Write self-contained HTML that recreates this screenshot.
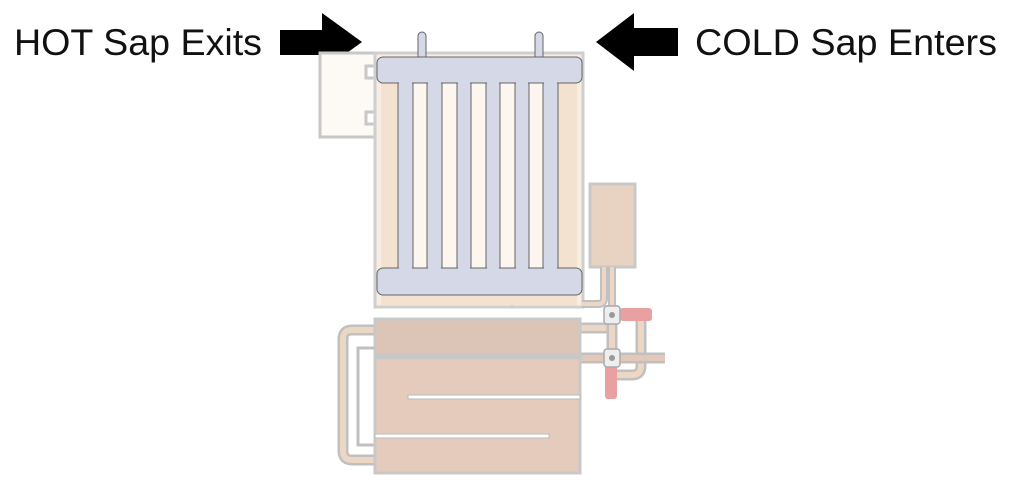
<!DOCTYPE html>
<html><head><meta charset="utf-8"><style>
html,body{margin:0;padding:0;background:#fff;}
svg{display:block;}
</style></head><body>
<svg width="1024" height="492" viewBox="0 0 1024 492" xmlns="http://www.w3.org/2000/svg">
<text x="14" y="55" font-family="Liberation Sans, sans-serif" font-size="37" fill="#111" textLength="248" lengthAdjust="spacingAndGlyphs">HOT Sap Exits</text>
<text x="695" y="55" font-family="Liberation Sans, sans-serif" font-size="37" fill="#111" textLength="302" lengthAdjust="spacingAndGlyphs">COLD Sap Enters</text>
<polygon points="280,30 322,30 322,13 362,42 322,71 322,55 280,55" fill="#000"/>
<polygon points="678,28 634,28 634,13 596,42 634,71 634,56 678,56" fill="#000"/>

<path d="M320,53 L375,53 L375,66 L366,66 L366,78 L375,78 L375,112 L366,112 L366,124 L375,124 L375,137 L320,137 Z" fill="#fdf9f4" stroke="#c8c8c8" stroke-width="3"/>
<rect x="375" y="53" width="208" height="254" fill="#f8ede2" stroke="#cfcfcf" stroke-width="3"/>
<line x1="512" y1="290" x2="512" y2="307" stroke="#cfcfcf" stroke-width="3"/>
<rect x="381" y="83" width="196" height="222" fill="#f3e2d0"/>
<g fill="#fdf6ee">
<rect x="413" y="83" width="14" height="185"/>
<rect x="442" y="83" width="15" height="185"/>
<rect x="471" y="83" width="15" height="185"/>
<rect x="500" y="83" width="15" height="185"/>
<rect x="529" y="83" width="14" height="185"/>
</g>
<rect x="590" y="184" width="45" height="83" fill="#e8d3c3" stroke="#c8c8c8" stroke-width="3"/>
<path d="M604,267 L604,298 Q604,304 598,304 L582,304" fill="none" stroke="#c0c0c0" stroke-width="8"/>
<path d="M604,267 L604,298 Q604,304 598,304 L582,304" fill="none" stroke="#ecd6c4" stroke-width="4"/>
<line x1="612" y1="267" x2="612" y2="310" stroke="#c0c0c0" stroke-width="8"/>
<line x1="612" y1="267" x2="612" y2="310" stroke="#ecd6c4" stroke-width="4"/>
<rect x="418" y="32" width="8" height="28" rx="4" fill="#d5d8e6" stroke="#666" stroke-width="1"/>
<rect x="535" y="32" width="8" height="28" rx="4" fill="#d5d8e6" stroke="#666" stroke-width="1"/>
<g fill="#d5d8e6" stroke="#666" stroke-width="1">
<rect x="398" y="80" width="15" height="191"/>
<rect x="427" y="80" width="15" height="191"/>
<rect x="457" y="80" width="14" height="191"/>
<rect x="486" y="80" width="14" height="191"/>
<rect x="515" y="80" width="14" height="191"/>
<rect x="543" y="80" width="15" height="191"/>
<rect x="377" y="57" width="205" height="26" rx="6"/>
<rect x="377" y="268" width="205" height="27" rx="6"/>
</g>
<g fill="#d5d8e6">
<rect x="399" y="82" width="13" height="188"/>
<rect x="428" y="82" width="13" height="188"/>
<rect x="458" y="82" width="12" height="188"/>
<rect x="487" y="82" width="12" height="188"/>
<rect x="516" y="82" width="12" height="188"/>
<rect x="544" y="82" width="13" height="188"/>
</g>

<path d="M375,330 L352,330 Q343,330 343,339 L343,451 Q343,460 352,460 L375,460" fill="none" stroke="#c0c0c0" stroke-width="11"/>
<path d="M375,330 L352,330 Q343,330 343,339 L343,451 Q343,460 352,460 L375,460" fill="none" stroke="#ecd6c4" stroke-width="6"/>
<path d="M580,328 L612,328 M620,314 L632,314 Q641,314 641,323 L641,366 Q641,375 632,375 L612,375" fill="none" stroke="#c0c0c0" stroke-width="11"/>
<path d="M580,328 L612,328 M620,314 L632,314 Q641,314 641,323 L641,366 Q641,375 632,375 L612,375" fill="none" stroke="#ecd6c4" stroke-width="6"/>
<line x1="580" y1="358" x2="665" y2="358" stroke="#c0c0c0" stroke-width="11"/>
<line x1="580" y1="358" x2="665" y2="358" stroke="#e2c8b8" stroke-width="6"/>
<line x1="612" y1="305" x2="612" y2="365" stroke="#c0c0c0" stroke-width="11"/>
<line x1="612" y1="305" x2="612" y2="365" stroke="#ecd6c4" stroke-width="6"/>
<rect x="358" y="348" width="17" height="97" fill="#fff" stroke="#c0c0c0" stroke-width="3"/>
<rect x="375" y="319" width="205" height="36" fill="#dcc4b6" stroke="#c8c8c8" stroke-width="3"/>
<rect x="375" y="358" width="205" height="115" fill="#e4cbbb" stroke="#c8c8c8" stroke-width="3"/>
<rect x="408" y="395" width="172" height="4" fill="#fff" stroke="#bbb" stroke-width="1"/>
<rect x="375" y="434" width="174" height="4" fill="#fff" stroke="#bbb" stroke-width="1"/>
<rect x="620" y="308" width="32" height="13" rx="3" fill="#e8a0a0"/>
<rect x="605" y="365" width="12" height="34" rx="3" fill="#e8a0a0"/>
<rect x="604" y="306" width="16" height="18" rx="3" fill="#eee" stroke="#aaa" stroke-width="1.5"/>
<circle cx="612" cy="315" r="3" fill="#999"/>
<rect x="604" y="349" width="16" height="18" rx="3" fill="#eee" stroke="#aaa" stroke-width="1.5"/>
<circle cx="612" cy="358" r="3" fill="#999"/>
</svg>
</body></html>
